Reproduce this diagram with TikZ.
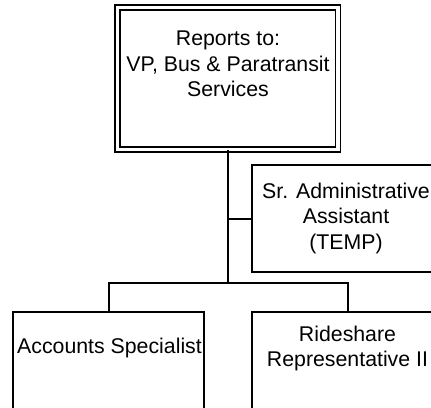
\documentclass[tikz,border=0pt]{standalone}
\usepackage{fontspec}
\setmainfont{Liberation Sans}
\tikzset{
  box/.style={draw, line width=2pt, minimum width=191pt, inner sep=0pt},
  headbox/.style={draw, line width=1.5pt, double, double distance=3.4pt, inner sep=0pt},
  lbl/.style={font=\fontsize{21.3pt}{25.5pt}\selectfont, align=center, inner sep=0pt},
  link/.style={line width=2pt}
}
\begin{document}
\begin{tikzpicture}[x=1pt,y=-1pt]
\useasboundingbox (0,0) rectangle (431,407);
\clip (0,0) rectangle (431,407);
% boxes
\node[headbox, minimum width=220.5pt, minimum height=142pt] (top) at (227.75,78.5) {};
\node[box, minimum height=107pt] (sr) at (347.5,218.5) {};
\node[box, minimum height=108pt] (acc) at (108.5,366) {};
\node[box, minimum height=108pt] (ride) at (347.5,366) {};
% connectors
\coordinate (bus) at (227.75,283);
\draw[link] (top.south) -- (bus);
\draw[link] (sr.west) -- (sr.west -| bus);
\draw[link] (acc.north) |- (bus) -| (ride.north);
% labels
\node[lbl, anchor=north] (toptext) at (228,30.7) {Reports to:\\VP, Bus \& Paratransit\\Services};
\node[lbl, anchor=north] (srtext) at (346,182.5) {Sr. Administrative\\Assistant\\(TEMP)};
\node[lbl, anchor=base] (acctext) at (109.5,353) {Accounts Specialist};
\node[lbl, anchor=north] (ridetext) at (347.5,325.5) {Rideshare\\Representative II};
\end{tikzpicture}
\end{document}
